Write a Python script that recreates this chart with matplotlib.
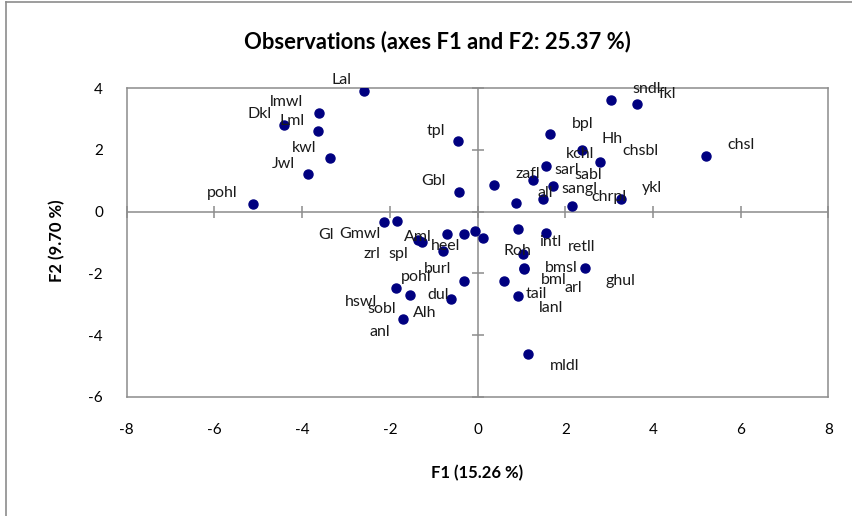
import matplotlib.pyplot as plt
from matplotlib.lines import Line2D

plt.rcParams['font.family'] = ['Lato', 'DejaVu Sans']
plt.rcParams['axes.unicode_minus'] = False

# observation names and their coordinates on F1 / F2
names = ["Lal", "lmwl", "Dkl", "Lml", "kwl", "Jwl", "pohl", "tpl", "Gbl",
         "sndl", "fkl", "bpl", "Hh", "chsbl", "kchl", "sarl", "zafl", "sabl",
         "all", "sangl", "chrpl", "ykl", "chsl",
         "Gl", "Gmwl", "zrl", "spl", "Aml", "pohl", "burl", "heel", "dul",
         "Roh", "intl", "retll", "bmsl", "bml", "arl", "ghul", "tail", "lanl",
         "mldl", "hswl", "sobl", "Alh", "anl"]
f1 = [-2.60, -3.62, -4.42, -3.63, -3.36, -3.86, -5.13, -0.45, -0.42,
      3.05, 3.64, 1.66, 2.38, 2.80, 1.55, 1.26, 0.38, 1.71,
      0.88, 1.48, 2.15, 3.28, 5.21,
      -2.13, -1.84, -1.37, -1.27, -0.70, -0.80, -0.30, -0.05, -0.32,
      0.12, 0.92, 1.57, 1.03, 1.05, 1.06, 2.44, 0.61, 0.93,
      1.15, -1.86, -1.53, -0.61, -1.71]
f2 = [3.90, 3.18, 2.80, 2.61, 1.73, 1.21, 0.26, 2.30, 0.65,
      3.62, 3.49, 2.51, 1.99, 1.62, 1.46, 1.02, 0.85, 0.82,
      0.27, 0.40, 0.18, 0.42, 1.81,
      -0.33, -0.29, -0.92, -0.97, -0.73, -1.26, -0.73, -0.64, -2.25,
      -0.87, -0.56, -0.70, -1.38, -1.82, -1.86, -1.81, -2.25, -2.73,
      -4.60, -2.47, -2.69, -2.83, -3.47]

x_ticks = [-8, -6, -4, -2, 0, 2, 4, 6, 8]
y_ticks = [-6, -4, -2, 0, 2, 4]

# where each label sits relative to its point (pixels)
label_dx = [-21.6, -32.3, -24.3, -26.3, -26, -24.7, -30.3, -22, -26,
            35.4, 29.7, 32.7, 30.3, 40, 34.7, 33.6, 33.2, 35.5,
            29, 37.2, 37.3, 30.4, 34.7,
            -58, -36.7, -45.6, -23.4, -29.4, -26, -27.3, -30, -25,
            35, 32.5, 35.4, 38, 30, 49, 35.8, 32, 32.7,
            36.6, -35, -28.3, -25.7, -23]
label_dy = [11.3, 11, 11.3, 10.3, 10.3, 10.3, 10.7, 9.7, 11,
            11, 10, 10.3, 11.3, 11, 12.2, 10.3, 11, 11,
            10.6, 10.7, 9.3, 10.4, 11,
            -13, -13.3, -14, -12.3, -2.4, -26.6, -35, -14.5, -14,
            -12.5, -13.3, -13.4, -13.4, -12, -18.5, -13.5, -13.1, -12.3,
            -12, -13.7, -14.6, -13.7, -13.6]

grey = "#8c8c8c"
navy = "#000080"

fig = plt.figure(figsize=(8.53, 5.16), dpi=100)
ax = fig.add_axes([126.7 / 853, 1 - 397 / 516, (828.5 - 126.7) / 853, (397 - 88) / 516])

ax.axhline(0, color=grey, lw=1.1, zorder=1)
ax.axvline(0, color=grey, lw=1.1, zorder=1)
ax.plot(x_ticks, [0] * len(x_ticks), ls="", marker="|", ms=8, mew=1.1, color=grey, clip_on=False, zorder=1)
ax.plot([0] * len(y_ticks), y_ticks, ls="", marker="_", ms=8, mew=1.1, color=grey, clip_on=False, zorder=1)

ax.plot(f1, f2, ls="", marker="o", ms=6.5, color=navy, zorder=3)
for n, x, y, dx, dy in zip(names, f1, f2, label_dx, label_dy):
    ax.annotate(n, (x, y), xytext=(dx, dy), textcoords="offset pixels",
                ha="center", va="center", fontsize=11.5, color="#1a1a1a",
                annotation_clip=False, zorder=4)

ax.set_xlim(-8, 8)
ax.set_ylim(-6, 4)
ax.set_xticks(x_ticks)
ax.set_yticks(y_ticks)
ax.tick_params(axis="x", length=0, pad=19, labelsize=11)
ax.tick_params(axis="y", length=0, pad=17, labelsize=11)
for s in ax.spines.values():
    s.set_color(grey)
    s.set_linewidth(1.1)

fig.text(437 / 853, 1 - 42 / 516, "Observations (axes F1 and F2: 25.37 %)",
         ha="center", va="center", fontsize=15.8, fontweight="bold")
fig.text(477 / 853, 1 - 473 / 516, "F1 (15.26 %)", ha="center", va="center",
         fontsize=12, fontweight="bold")
fig.text(57 / 853, 1 - 241 / 516, "F2 (9.70 %)", ha="center", va="center",
         rotation=90, fontsize=12, fontweight="bold")

# chart area border (only left and top edges fall inside the picture)
fig.add_artist(Line2D([6.5 / 853, 6.5 / 853], [0, 1 - 1.5 / 516], color=grey, lw=1.2))
fig.add_artist(Line2D([6.5 / 853, 1], [1 - 1.5 / 516, 1 - 1.5 / 516], color=grey, lw=1.2))

fig.savefig("out.png", dpi=100)
